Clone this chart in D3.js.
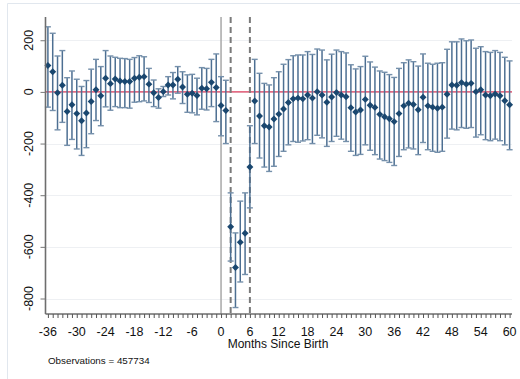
<html>
<head>
<meta charset="utf-8">
<style>
  body { margin: 0; background: #fff; }
  text { font-family: "Liberation Sans", Arial, sans-serif; }
</style>
</head>
<body>
<div id="chartContainer"></div>
<script src="https://d3js.org/d3.v7.min.js"></script>
<script type="text/javascript">

  // months since birth, one estimate per month
  var months = [-36, -35, -34, -33, -32, -31, -30, -29, -28, -27, -26, -25, -24, -23, -22, -21, -20, -19,
                -18, -17, -16, -15, -14, -13, -12, -11, -10, -9, -8, -7, -6, -5, -4, -3, -2, -1,
                0, 1, 2, 3, 4, 5, 6, 7, 8, 9, 10, 11, 12, 13, 14, 15, 16, 17, 18, 19, 20, 21, 22, 23, 24,
                25, 26, 27, 28, 29, 30, 31, 32, 33, 34, 35, 36, 37, 38, 39, 40, 41, 42, 43, 44, 45, 46,
                47, 48, 49, 50, 51, 52, 53, 54, 55, 56, 57, 58, 59, 60];

  var estimate = [102, 78, -3, 26, -76, -50, -84, -112, -82, -37, 8, -15, 53, 32, 50, 42, 40, 40,
                  53, 57, 59, 30, -3, -22, 1, 27, 27, 49, 19, -9, -5, -14, 14, 12, 37, 17,
                  -53, -72, -522, -680, -582, -547, -291, -35, -93, -131, -136, -105, -86, -66, -41,
                  -27, -24, -27, -12, -24, 1, -12, -40, -20, -2, -12, -19, -61, -78, -70, -29, -52, -60,
                  -87, -96, -104, -115, -84, -54, -44, -49, -69, -21, -54, -59, -63, -59,
                  -9, 27, 26, 36, 30, 33, 1, 8, -12, -15, -8, -15, -34, -50];

  var ciHigh = [252, 227, 139, 160, 55, 81, 49, 21, 44, 88, 126, 98, 160, 139, 134, 130, 129, 126,
                133, 140, 136, 91, 46, 12, 21, 59, 75, 98, 78, 66, 68, 53, 94, 91, 126, 147,
                59, 45, -391, -546, -423, -391, -131, 126, 72, 33, 27, 55, 78, 107, 125,
                140, 143, 143, 156, 145, 166, 162, 124, 146, 162, 156, 151, 105, 89, 98, 138, 116, 96,
                81, 76, 67, 56, 91, 113, 124, 117, 100, 147, 111, 107, 111, 113,
                165, 194, 194, 205, 198, 201, 169, 175, 156, 153, 160, 153, 134, 120];

  var ciLow = [-59, -72, -147, -118, -207, -184, -221, -246, -216, -162, -111, -131, -58, -71, -57, -61, -61, -63,
               -40, -38, -35, -41, -57, -63, -18, -12, -27, -5, -45, -79, -81, -89, -67, -70, -57, -115,
               -170, -200, -655, -835, -736, -707, -449, -200, -256, -291, -308, -288, -250, -230, -205,
               -192, -195, -190, -185, -200, -168, -178, -211, -192, -172, -183, -192, -230, -246, -242, -205, -226, -243,
               -260, -266, -273, -285, -250, -224, -217, -221, -243, -196, -224, -230, -234, -230,
               -179, -144, -147, -138, -141, -138, -175, -166, -185, -189, -183, -189, -205, -224];

  var xTicks = [-36, -30, -24, -18, -12, -6, 0, 6, 12, 18, 24, 30, 36, 42, 48, 54, 60];
  var yTicks = [200, 0, -200, -400, -600, -800];
  var markLines = [2, 6];   // dashed reference months

  var data = months.map(function(m, i) {
    return {month: m, est: estimate[i], hi: ciHigh[i], lo: ciLow[i]};
  });

  // plot box (note: "top" is taken by window.top, so use pTop etc.)
  var W = 520, H = 379;
  var pLeft = 45.5, pRight = 512, pTop = 17, pBottom = 314;

  var svg = d3.select("#chartContainer").append("svg")
    .attr("width", W)
    .attr("height", H);

  // faint graph-region frame
  svg.append("path")
    .attr("d", "M7.5," + H + "V3.5H" + W)
    .attr("fill", "none")
    .attr("stroke", "#e1e7ee")
    .attr("stroke-width", 1);

  var x = d3.scaleLinear().domain([-36.5, 60.5]).range([pLeft, pRight]);
  var y = d3.scaleLinear().domain([-860, 290]).range([pBottom, pTop]);

  // gridlines
  svg.selectAll(".grid")
    .data(yTicks)
    .enter().append("line")
    .attr("x1", pLeft).attr("x2", pRight)
    .attr("y1", function(d) { return Math.round(y(d)) + 0.5; })
    .attr("y2", function(d) { return Math.round(y(d)) + 0.5; })
    .attr("stroke", "#eef0f3")
    .attr("stroke-width", 1);

  // zero line in red
  svg.append("line")
    .attr("x1", pLeft).attr("x2", pRight)
    .attr("y1", y(0)).attr("y2", y(0))
    .attr("stroke", "#dc3b5b")
    .attr("stroke-width", 1.3);

  // birth month (solid) and dashed markers
  svg.append("line")
    .attr("x1", x(0)).attr("x2", x(0))
    .attr("y1", pTop).attr("y2", pBottom)
    .attr("stroke", "#a8a8a8")
    .attr("stroke-width", 1.5);

  svg.selectAll(".dash")
    .data(markLines)
    .enter().append("line")
    .attr("x1", function(d) { return x(d); })
    .attr("x2", function(d) { return x(d); })
    .attr("y1", pTop).attr("y2", pBottom)
    .attr("stroke", "#7a7a7a")
    .attr("stroke-width", 2)
    .attr("stroke-dasharray", "6,4");

  // error bars with caps
  var bars = svg.append("g").attr("class", "bars");
  bars.selectAll("line.ci")
    .data(data)
    .enter().append("line")
    .attr("x1", function(d) { return x(d.month); })
    .attr("x2", function(d) { return x(d.month); })
    .attr("y1", function(d) { return y(d.hi); })
    .attr("y2", function(d) { return y(d.lo); })
    .attr("stroke", "#4d6f92")
    .attr("stroke-width", 1.5);

  ["hi", "lo"].forEach(function(k) {
    bars.selectAll("line.cap-" + k)
      .data(data)
      .enter().append("line")
      .attr("x1", function(d) { return x(d.month) - 3; })
      .attr("x2", function(d) { return x(d.month) + 3; })
      .attr("y1", function(d) { return y(d[k]); })
      .attr("y2", function(d) { return y(d[k]); })
      .attr("stroke", "#7590ab")
      .attr("stroke-width", 1.4);
  });

  // diamond markers
  svg.selectAll(".pt")
    .data(data)
    .enter().append("path")
    .attr("d", d3.symbol().type(d3.symbolSquare).size(24))
    .attr("transform", function(d) {
      return "translate(" + x(d.month) + "," + y(d.est) + ") rotate(45)";
    })
    .attr("fill", "#1a476f");

  // axes
  var xAxis = d3.axisBottom(x).tickValues(months).tickSize(4).tickFormat("");
  var gx = svg.append("g").attr("transform", "translate(0," + pBottom + ")").call(xAxis);
  gx.select(".domain").attr("stroke", "#6e6e6e").attr("stroke-width", 1.6)
    .attr("d", "M" + pLeft + ",0H" + pRight);
  gx.selectAll(".tick line").attr("stroke", "#555");

  svg.selectAll(".xlab")
    .data(xTicks)
    .enter().append("text")
    .attr("x", function(d) { return x(d); })
    .attr("y", 335.5)
    .attr("text-anchor", "middle")
    .attr("font-size", "12.5px")
    .attr("fill", "#111")
    .text(function(d) { return d; });

  var yAxis = d3.axisLeft(y).tickValues(yTicks).tickSize(5).tickFormat("");
  var gy = svg.append("g").attr("transform", "translate(" + pLeft + ",0)").call(yAxis);
  gy.select(".domain").attr("stroke", "#6e6e6e").attr("stroke-width", 1.6)
    .attr("d", "M0," + pTop + "V" + pBottom);
  gy.selectAll(".tick line").attr("stroke", "#777");

  svg.selectAll(".ylab")
    .data(yTicks)
    .enter().append("text")
    .attr("transform", function(d) { return "translate(33," + y(d) + ") rotate(-90)"; })
    .attr("text-anchor", "middle")
    .attr("font-size", "12.5px")
    .attr("fill", "#111")
    .text(function(d) { return d; });

  svg.append("text")
    .attr("x", 278)
    .attr("y", 348)
    .attr("text-anchor", "middle")
    .attr("font-size", "12px")
    .attr("fill", "#111")
    .text("Months Since Birth");

  svg.append("text")
    .attr("x", 48)
    .attr("y", 364)
    .attr("font-size", "9.8px")
    .attr("fill", "#111")
    .text("Observations = 457734");

</script>
</body>
</html>
